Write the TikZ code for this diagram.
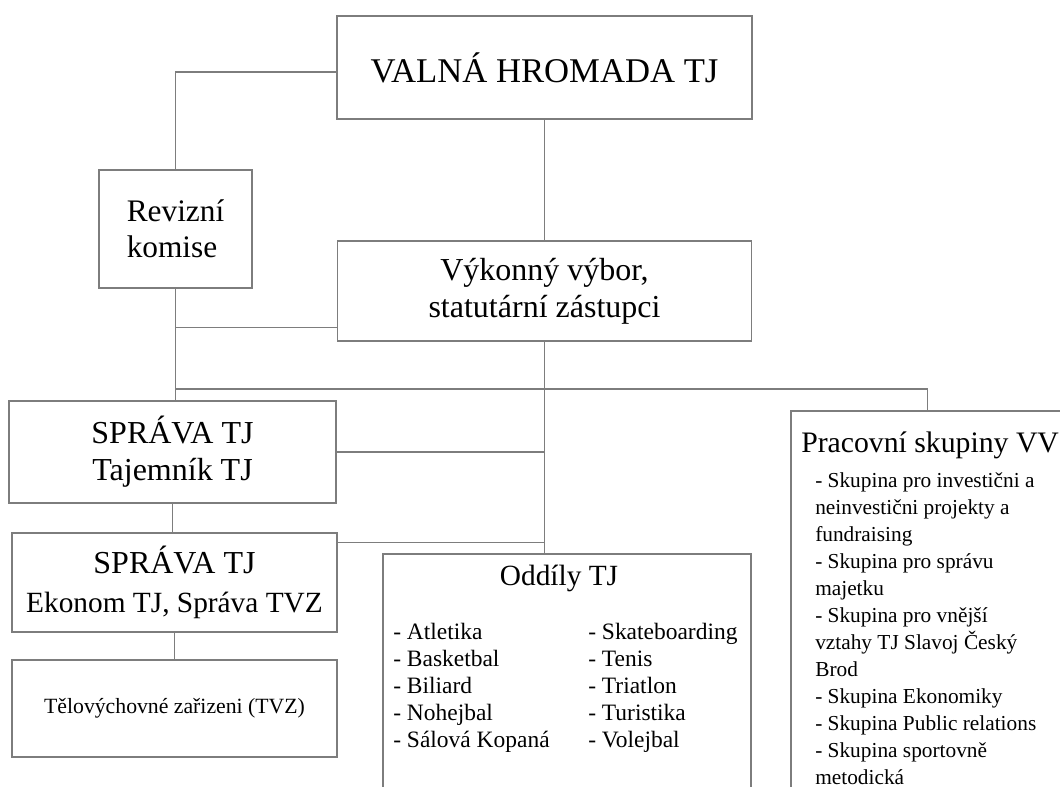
\documentclass[tikz,border=0pt]{standalone}
\usepackage{fontspec}
\setmainfont{Liberation Serif}
\usetikzlibrary{positioning,calc}
\definecolor{framegray}{RGB}{125,125,125}

\newcommand{\fsz}[2]{\fontsize{#1}{#2}\selectfont}

\tikzset{
  unit/.style={draw=framegray, line width=1.1pt, fill=white, inner sep=0pt, align=center},
  boxsize/.style 2 args={minimum width={#1*0.75pt}, minimum height={#2*0.75pt}},
  link/.style={draw=framegray, line width=1.1pt},
  item/.style={inner sep=0pt, anchor=west, align=left}
}

\begin{document}
\begin{tikzpicture}[x=0.75pt, y=-0.75pt]
        \clip (0,0) rectangle (1060,787);

        % top level
        \node[unit, boxsize={415}{103}, font=\fsz{26pt}{30pt}] (valna) at (544.5, 67.5) {VALNÁ HROMADA TJ};
        \node[unit, boxsize={153}{118}, align=left, font=\fsz{23.5pt}{27pt}] (revize) at (175.5, 229) {Revizní\\komise};
        \node[unit, boxsize={414}{100}, font=\fsz{24pt}{27.75pt}] (vykon) at (544.5, 291) {Výkonný výbor,\\statutární zástupci};

        % left column
        \node[unit, boxsize={327}{102}, font=\fsz{24pt}{27.75pt}] (sprava1) at (172.5, 452) {SPRÁVA TJ\\Tajemník TJ};
        \node[unit, boxsize={325}{99}, font=\fsz{22pt}{29pt}] (sprava2) at (174.5, 582.5) {{\fsz{24pt}{29pt}SPRÁVA TJ}\\Ekonom TJ, Správa TVZ};
        \node[unit, boxsize={325}{97}, font=\fsz{16.3pt}{20pt}] (tvz) at (174.5, 708.5) {Tělovýchovné zařizeni (TVZ)};

        % sections and working groups
        \node[unit, boxsize={368}{256}] (oddily) at (567, 682) {};
        \node[inner sep=0pt, font=\fsz{22pt}{26pt}] (oddtitle) at (559, 578) {Oddíly TJ};
        \node[item, font=\fsz{17.6pt}{20.25pt}] (oddleft) at (393, 687.5) {- Atletika\\- Basketbal\\- Biliard\\- Nohejbal\\- Sálová Kopaná};
        \node[item, font=\fsz{17.6pt}{20.25pt}] (oddright) at (588, 687.5) {- Skateboarding\\- Tenis\\- Triatlon\\- Turistika\\- Volejbal};

        \node[unit, boxsize={299}{399}] (pracovni) at (940.5, 610.5) {};
        \node[item, font=\fsz{22.3pt}{26pt}] (prtitle) at (801, 445) {Pracovní skupiny VV};
        \node[item, font=\fsz{16pt}{20.25pt}] (prlist) at (815, 628.5) {- Skupina pro investični a\\neinvestični projekty a\\fundraising\\- Skupina pro správu\\majetku\\- Skupina pro vnější\\vztahy TJ Slavoj Český\\Brod\\- Skupina Ekonomiky\\- Skupina Public relations\\- Skupina sportovně\\metodická};

        % connectors
        \coordinate (hub) at (175, 389);
        \draw[link] ([yshift=-3.4pt]valna.west) -| (revize.north);
        \draw[link] (valna.south) -- (vykon.north);
        \draw[link] (revize.south) -- (revize.south |- sprava1.north);
        \draw[link] ([yshift=10.5pt]vykon.south west) -- ([yshift=10.5pt]vykon.south west -| revize.south);
        \draw[link] (vykon.south) -- (vykon.south |- oddily.north);
        \draw[link] (hub) -| ($(pracovni.north west)+(137,0)$);
        \draw[link] (sprava1.east) -- (sprava1.east -| vykon.south);
        \draw[link] ([yshift=-7.5pt]sprava2.north east) -- ([yshift=-7.5pt]sprava2.north east -| vykon.south);
        \draw[link] (sprava1.south) -- (sprava1.south |- sprava2.north);
        \draw[link] (sprava2.south) -- (sprava2.south |- tvz.north);
    \end{tikzpicture}
\end{document}
